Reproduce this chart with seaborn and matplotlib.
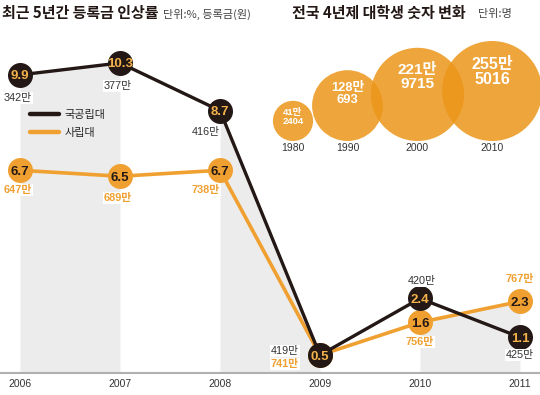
import numpy as np
import matplotlib.pyplot as plt
import seaborn as sns
from matplotlib.lines import Line2D

# tuition increase rate (%) and tuition (won) per year
years = [2006, 2007, 2008, 2009, 2010, 2011]
public_rate = [9.9, 10.3, 8.7, 0.5, 2.4, 1.1]
private_rate = [6.7, 6.5, 6.7, 0.5, 1.6, 2.3]
public_fee = ['342만', '377만', '416만', '419만', '420만', '425만']
private_fee = ['647만', '689만', '738만', '741만', '756만', '767만']

# number of 4-year university students
student_years = ['1980', '1990', '2000', '2010']
students = [412404, 1280693, 2219715, 2555016]
student_labels = ['41만\n2404', '128만\n693', '221만\n9715', '255만\n5016']

BLACK = '#231815'
ORANGE = '#f0a030'
GREY = '#ececec'
W, H = 540, 395
KR = ['Noto Sans CJK KR', 'DejaVu Sans']
NUM = ['Liberation Sans', 'Noto Sans CJK KR']

sns.set_theme(style='white')
plt.rcParams['font.family'] = KR


def main():
    fig = plt.figure(figsize=(W / 100, H / 100), dpi=100)

    # bubble chart lives in a pixel-unit overlay axes
    ax_b = fig.add_axes([0, 0, 1, 1], zorder=0)
    ax_b.set_xlim(0, W)
    ax_b.set_ylim(H, 0)
    ax_b.axis('off')

    ax = fig.add_axes([0, (H - 373) / H, 1, 333 / H], zorder=1)
    ax.set_facecolor('none')
    ax.set_xlim(2005.8, 2011.2)
    ax.set_ylim(-0.1, 11.07)

    # shaded year bands
    for start, top in [(2006, public_rate), (2008, public_rate), (2010, private_rate)]:
        i = years.index(start)
        ax.fill_between(years[i:i + 2], top[i:i + 2], -0.1, color=GREY, lw=0, zorder=0)

    sns.lineplot(x=years, y=private_rate, color=ORANGE, lw=2.6, marker='o', markersize=18,
                 markeredgewidth=0, ax=ax, zorder=3)
    sns.lineplot(x=years, y=public_rate, color=BLACK, lw=2.4, marker='o', markersize=18,
                 markeredgewidth=0, ax=ax, zorder=5)

    for x, v in zip(years, private_rate):
        ax.text(x, v, f'{v}', ha='center', va='center_baseline', fontsize=9.5, weight='bold',
                color=BLACK, family=NUM, zorder=4)
    for x, v in zip(years, public_rate):
        ax.text(x, v, f'{v}', ha='center', va='center_baseline', fontsize=9.5, weight='bold',
                color='#f3b24a', family=NUM, zorder=6)

    # label offsets in pixels (dx, dy downwards)
    pub_off = [(-2, 23), (-2, 23), (-14, 21), (-35, -4), (2, -17), (0, 18)]
    pri_off = [(-2, 20), (-2, 22), (-14, 20), (-35, 9), (0, 20), (0, -22)]
    for x, v, lab, (dx, dy) in zip(years, public_rate, public_fee, pub_off):
        ax.annotate(lab, (x, v), xytext=(dx * 0.72, -dy * 0.72), textcoords='offset points',
                    ha='center', va='center', fontsize=7.8, color='#333333', family=NUM,
                    zorder=7, bbox=dict(fc='white', ec='none', pad=0.6))
    for x, v, lab, (dx, dy) in zip(years, private_rate, private_fee, pri_off):
        ax.annotate(lab, (x, v), xytext=(dx * 0.72, -dy * 0.72), textcoords='offset points',
                    ha='center', va='center', fontsize=7.8, color=ORANGE, weight='bold',
                    family=NUM, zorder=7, bbox=dict(fc='white', ec='none', pad=0.6))

    for s in ['top', 'left', 'right']:
        ax.spines[s].set_visible(False)
    ax.spines['bottom'].set_color('#b0b0b0')
    ax.spines['bottom'].set_linewidth(1.5)
    ax.set_xticks(years)
    ax.set_xticklabels([str(y) for y in years], fontsize=7.5, color='#333333', family=NUM)
    ax.tick_params(axis='x', length=0, pad=4)
    ax.set_yticks([])

    handles = [Line2D([], [], color=BLACK, lw=3.2), Line2D([], [], color=ORANGE, lw=3.2)]
    ax.legend(handles, ['국공립대', '사립대'], loc='upper left', frameon=False,
              bbox_to_anchor=(30 / W, 1 - 110 / H), bbox_transform=fig.transFigure,
              fontsize=8, handlelength=2.6, handletextpad=0.5, labelspacing=0.75,
              borderpad=0, borderaxespad=0)

    # bubbles: area proportional to student count, bottom aligned
    r = 50 * np.sqrt(np.array(students) / max(students))
    overlaps = [1, 12, 22]
    cx = [293.0]
    for i in range(1, len(r)):
        cx.append(cx[-1] + r[i - 1] + r[i] - overlaps[i - 1])
    cy = 141 - r
    ax_b.scatter(cx, cy, s=(2 * r * 0.72) ** 2, color='#ec9619', alpha=0.85, linewidths=0)
    for x, y, rr, lab, yr in zip(cx, cy, r, student_labels, student_years):
        ax_b.text(x, y - (0.5 * rr - 6), lab, ha='center', va='center', color='white',
                  weight='bold', fontsize=3.6 + 0.16 * rr, linespacing=1.05, family=NUM)
        ax_b.text(x, 148, yr, ha='center', va='center', fontsize=7.5, color='#333333', family=NUM)

    # titles
    fig.text(2 / W, 1 - 13 / H, '최근 5년간 등록금 인상률', fontsize=10.8, weight='bold',
             color=BLACK, va='center')
    fig.text(163 / W, 1 - 14 / H, '단위:%, 등록금(원)', fontsize=8, color='#444444', va='center')
    fig.text(292 / W, 1 - 13 / H, '전국 4년제 대학생 숫자 변화', fontsize=10.8, weight='bold',
             color=BLACK, va='center')
    fig.text(478 / W, 1 - 14 / H, '단위:명', fontsize=8, color='#444444', va='center')

    fig.savefig('out.png', dpi=100)


if __name__ == '__main__':
    main()
